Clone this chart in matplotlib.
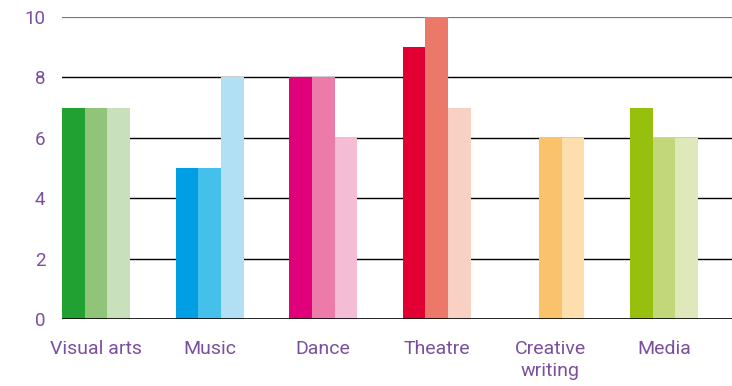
import matplotlib.pyplot as plt
import numpy as np

categories = ['Visual arts', 'Music', 'Dance', 'Theatre', 'Creative\nwriting', 'Media']
series_a = [7, 5, 8, 9, 0, 7]
series_b = [7, 5, 8, 10, 6, 6]
series_c = [7, 8, 6, 7, 6, 6]

# one hue per art form, three shades per group
shades = [
    ['#21A131', '#8FC479', '#C8E0BB'],
    ['#009FE3', '#45C0EA', '#B1DFF4'],
    ['#E0007A', '#EC7BAA', '#F5BDD5'],
    ['#E10031', '#EC786A', '#F8D0C4'],
    ['#F9C26B', '#F9C26B', '#FDDFAE'],
    ['#97BF0D', '#C2D67A', '#DFE8BA'],
]
PURPLE = '#7B4F9E'

plt.rcParams['font.family'] = ['Roboto', 'DejaVu Sans']

fig = plt.figure(figsize=(7.32, 3.86), dpi=100)
ax = fig.add_axes([62 / 732, 1 - 319 / 386, 1 - 62 / 732, (319 - 17) / 386])

x = np.arange(len(categories))
w = 0.2
for k, vals in enumerate([series_a, series_b, series_c]):
    for i, v in enumerate(vals):
        if v > 0:
            ax.bar(x[i] + (k - 1) * w, v, width=w, color=shades[i][k],
                   linewidth=0, zorder=2)

for yv in [2, 4, 6, 8]:
    ax.axhline(yv, color='black', linewidth=1.0, zorder=1)
ax.axhline(10, color='#777777', linewidth=1.6, zorder=1)
ax.axhline(0, color='black', linewidth=1.2, zorder=3)

ax.set_xlim(-0.3, 5.6)
ax.set_ylim(0, 10)
ax.set_yticks([0, 2, 4, 6, 8, 10])
ax.set_xticks(x)
ax.set_xticklabels(categories, color=PURPLE, fontsize=14, va='top',
                   linespacing=1.3)
for lbl in ax.get_xticklabels()[:1]:
    lbl.set_x(-0.02)
ax.tick_params(axis='y', length=0, pad=12, labelcolor=PURPLE, labelsize=13.5)
ax.tick_params(axis='x', length=0, pad=15)
for s in ax.spines.values():
    s.set_visible(False)

fig.savefig('out.png', dpi=100)
